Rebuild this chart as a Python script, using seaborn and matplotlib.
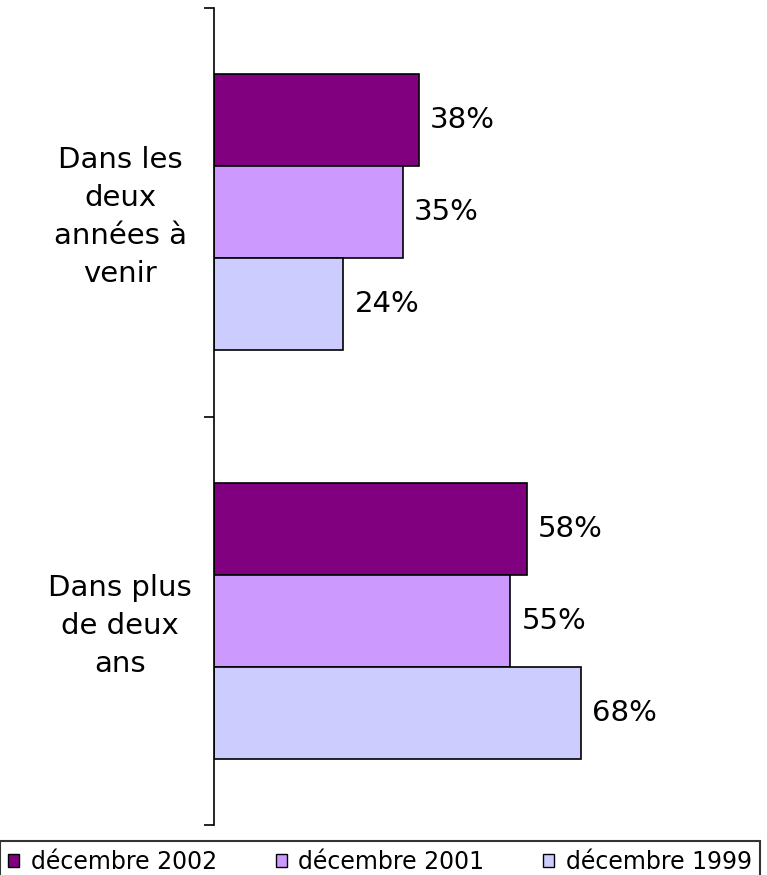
import pandas as pd
import seaborn as sns
import matplotlib.pyplot as plt
from matplotlib.patches import Patch

categories = ["Dans les\ndeux\nannées à\nvenir", "Dans plus\nde deux\nans"]
series = ["décembre 2002", "décembre 2001", "décembre 1999"]
values_2002 = [38, 58]
values_2001 = [35, 55]
values_1999 = [24, 68]
colors = ["#800080", "#CC99FF", "#CCCCFF"]

df = pd.DataFrame({
    "categorie": categories * 3,
    "serie": [series[0]] * 2 + [series[1]] * 2 + [series[2]] * 2,
    "valeur": values_2002 + values_2001 + values_1999,
})

sns.set_style("white")
plt.rcParams["font.family"] = ["DejaVu Sans"]
plt.rcParams["text.color"] = "black"

fig = plt.figure(figsize=(7.67, 8.75), dpi=100)
ax = fig.add_axes([214 / 767, 50 / 875, 539 / 767, 817 / 875])

sns.barplot(
    data=df, x="valeur", y="categorie", hue="serie",
    order=categories, hue_order=series, palette=colors,
    orient="h", width=0.675, edgecolor="black", linewidth=1.2,
    saturation=1, legend=False, ax=ax,
)

for c in ax.containers:
    ax.bar_label(c, fmt="%.0f%%", padding=8, fontsize=21, color="black")

ax.set_xlim(0, 100)
ax.set_ylim(1.5, -0.5)
ax.set_yticks([-0.5, 0.5, 1.5])
ax.set_yticklabels([])
ax.set_xticks([])
ax.set_xlabel("")
ax.set_ylabel("")
ax.tick_params(axis="y", left=True, length=7, width=1.2, color="black")
for s in ["top", "right", "bottom"]:
    ax.spines[s].set_visible(False)
ax.spines["left"].set_color("black")
ax.spines["left"].set_linewidth(1.2)

# libellés des catégories, centrés à gauche de l'axe
for i, cat in enumerate(categories):
    ax.text(-0.174, i + 0.012, cat, transform=ax.get_yaxis_transform(),
            ha="center", va="center", fontsize=21, linespacing=1.45,
            color="black")

handles = [Patch(facecolor=col, edgecolor="black", linewidth=1) for col in colors]
leg = fig.legend(handles, series, loc="lower left",
                 bbox_to_anchor=(0.0, -0.008, 0.991, 0.0), mode="expand",
                 ncol=3, fontsize=17, frameon=True, fancybox=False,
                 handlelength=0.45, handleheight=0.45, handletextpad=0.5,
                 borderpad=0.35, borderaxespad=0.0)
leg.get_frame().set_edgecolor("black")
leg.get_frame().set_linewidth(1.5)
for t in leg.get_texts():
    t.set_color("black")

fig.savefig("out.png", dpi=100)
